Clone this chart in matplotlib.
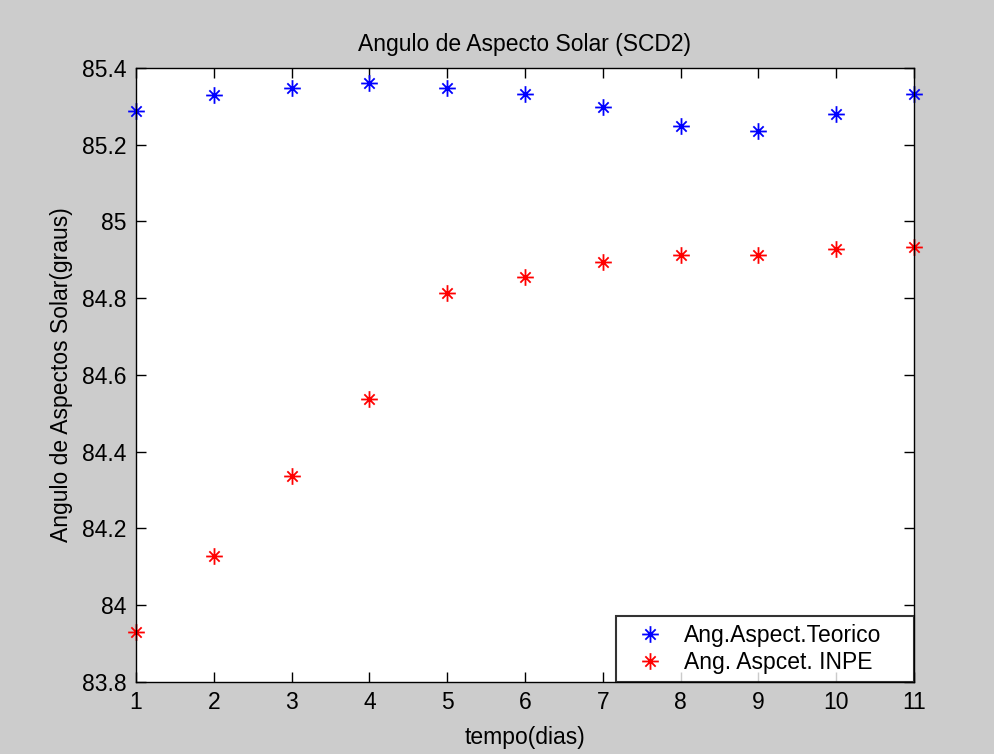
import matplotlib
matplotlib.use("Agg")
import matplotlib.pyplot as plt
from matplotlib.path import Path

dias = [1, 2, 3, 4, 5, 6, 7, 8, 9, 10, 11]
teorico = [85.289, 85.330, 85.349, 85.360, 85.348, 85.331, 85.298, 85.250, 85.237, 85.280, 85.331]
inpe = [83.929, 84.128, 84.337, 84.536, 84.814, 84.856, 84.895, 84.913, 84.913, 84.929, 84.934]
yticks = [83.8, 84, 84.2, 84.4, 84.6, 84.8, 85, 85.2, 85.4]
ytick_labels = ["83.8", "84", "84.2", "84.4", "84.6", "84.8", "85", "85.2", "85.4"]

plt.rcParams['font.family'] = ['Liberation Sans', 'DejaVu Sans']
FS = 16.5

# MATLAB-style asterisk marker: plus with a smaller diagonal cross
d = 0.62
verts = [(-1, 0), (1, 0), (0, -1), (0, 1), (-d, -d), (d, d), (-d, d), (d, -d)]
codes = [Path.MOVETO, Path.LINETO] * 4
ast = Path(verts, codes)

fig = plt.figure(figsize=(9.94, 7.54), dpi=100, facecolor='#cccccc')
ax = fig.add_axes([0.1368, 0.0959, 0.7827, 0.8139])
ax.set_facecolor('white')

ax.plot(dias, teorico, linestyle='none', marker=ast, markersize=12, markeredgewidth=1.3,
        color='#0000ff', label='Ang.Aspect.Teorico', clip_on=False)
ax.plot(dias, inpe, linestyle='none', marker=ast, markersize=12, markeredgewidth=1.3,
        color='#ff0000', label='Ang. Aspcet. INPE', clip_on=False)

ax.set_xlim(1, 11)
ax.set_ylim(83.8, 85.4)
ax.set_xticks(dias)
ax.set_yticks(yticks)
ax.set_yticklabels(ytick_labels)
ax.tick_params(direction='in', top=True, right=True, length=7, width=1,
               labelsize=FS, colors='black', pad=7)
for s in ax.spines.values():
    s.set_linewidth(1)
    s.set_color('black')

ax.set_title('Angulo de Aspecto Solar (SCD2)', fontsize=FS, pad=12)
ax.set_xlabel('tempo(dias)', fontsize=FS, labelpad=8)
ax.set_ylabel('Angulo de Aspectos Solar(graus)', fontsize=FS, labelpad=6)

leg = ax.legend(loc='lower left', bbox_to_anchor=(0.617, 0.0, 0.383, 0.1), mode='expand',
                fontsize=FS, frameon=True, fancybox=False,
                borderaxespad=0, handlelength=2.27, handletextpad=0.35,
                borderpad=0.35, labelspacing=0.15)
leg.get_frame().set_edgecolor('black')
leg.get_frame().set_linewidth(1.5)

fig.savefig('out.png', dpi=100, facecolor=fig.get_facecolor())
